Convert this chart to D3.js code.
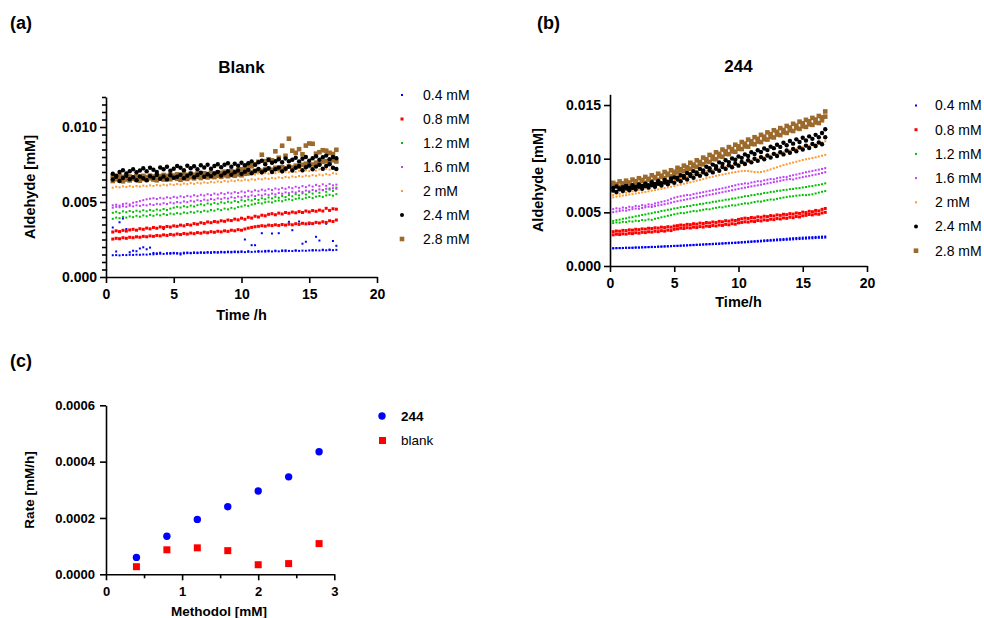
<!DOCTYPE html>
<html>
<head>
<meta charset="utf-8">
<script src="https://cdn.jsdelivr.net/npm/d3@7"></script>
<style>
  body { margin: 0; background: #fff; }
  svg text { font-family: "Liberation Sans", Arial, Helvetica, sans-serif; fill: #000; }
</style>
</head>
<body>
<svg id="fig" width="984" height="618"></svg>
<script>
// ---------- Time courses: aldehyde [mM], two replicate wells per methodol level ----------
const concLabels = ["0.4 mM", "0.8 mM", "1.2 mM", "1.6 mM", "2 mM", "2.4 mM", "2.8 mM"];

// Blank plate read times (h)
const timeBlank = [0.5,0.75,1,1.25,1.5,1.75,2,2.25,2.5,2.75,3,3.25,3.5,3.75,4,4.25,4.5,4.75,5,5.25,
  5.5,5.75,6,6.25,6.5,6.75,7,7.25,7.5,7.75,8,8.25,8.5,8.75,9,9.25,9.5,9.75,10,10.25,
  10.5,10.75,11,11.25,11.5,11.75,12,12.25,12.5,12.75,13,13.25,13.5,13.75,14,14.25,14.5,14.75,15,15.25,
  15.5,15.75,16,16.25,16.5,16.75,17];

// 244 plate read times (h)
const time244 = [0.25,0.5,0.75,1,1.25,1.5,1.75,2,2.25,2.5,2.75,3,3.25,3.5,3.75,4,4.25,4.5,4.75,5,
  5.25,5.5,5.75,6,6.25,6.5,6.75,7,7.25,7.5,7.75,8,8.25,8.5,8.75,9,9.25,9.5,9.75,10,
  10.25,10.5,10.75,11,11.25,11.5,11.75,12,12.25,12.5,12.75,13,13.25,13.5,13.75,14,14.25,14.5,14.75,15,
  15.25,15.5,15.75,16,16.25,16.5,16.75];

// Blank
const blank_04_r1 = [0.00145,0.00146,0.00144,0.00147,0.00146,0.00148,0.00147,0.00149,0.00148,0.00150,
  0.00149,0.00152,0.00151,0.00153,0.00155,0.00154,0.00156,0.00155,0.00157,0.00156,
  0.00158,0.00157,0.00159,0.00158,0.00160,0.00159,0.00161,0.00160,0.00162,0.00161,
  0.00163,0.00162,0.00164,0.00163,0.00165,0.00164,0.00166,0.00165,0.00167,0.00166,
  0.00168,0.00167,0.00169,0.00168,0.00170,0.00169,0.00171,0.00170,0.00172,0.00171,
  0.00173,0.00172,0.00174,0.00173,0.00175,0.00174,0.00176,0.00175,0.00177,0.00176,
  0.00178,0.00177,0.00179,0.00178,0.00180,0.00179,0.00181];
const blank_04_r2 = [0.00330,0.00170,0.00365,0.00390,0.00320,0.00165,0.00175,0.00172,0.00190,0.00198,
  0.00185,0.00196,0.00160,0.00158,0.00162,0.00320,0.00158,0.00160,0.00161,0.00159,
  0.00150,0.00162,0.00163,0.00161,0.00164,0.00163,0.00165,0.00164,0.00166,0.00165,
  0.00167,0.00166,0.00168,0.00167,0.00169,0.00168,0.00170,0.00169,0.00171,0.00250,
  0.00172,0.00212,0.00212,0.00173,0.00292,0.00174,0.00175,0.00290,0.00176,0.00292,
  0.00177,0.00178,0.00368,0.00312,0.00178,0.00370,0.00222,0.00235,0.00352,0.00180,
  0.00268,0.00243,0.00182,0.00355,0.00183,0.00240,0.00208];
const blank_08_r1 = [0.00300,0.00308,0.00303,0.00311,0.00306,0.00314,0.00318,0.00312,0.00322,0.00318,
  0.00326,0.00321,0.00330,0.00325,0.00334,0.00330,0.00337,0.00333,0.00341,0.00338,
  0.00346,0.00341,0.00350,0.00346,0.00356,0.00352,0.00362,0.00357,0.00367,0.00362,
  0.00370,0.00366,0.00375,0.00371,0.00380,0.00376,0.00386,0.00381,0.00392,0.00385,
  0.00398,0.00393,0.00405,0.00400,0.00412,0.00408,0.00418,0.00422,0.00415,0.00426,
  0.00420,0.00430,0.00425,0.00433,0.00428,0.00436,0.00430,0.00440,0.00434,0.00443,
  0.00438,0.00446,0.00440,0.00458,0.00444,0.00455,0.00452];
const blank_08_r2 = [0.00253,0.00258,0.00255,0.00262,0.00258,0.00265,0.00262,0.00268,0.00265,0.00271,
  0.00268,0.00274,0.00271,0.00277,0.00274,0.00281,0.00277,0.00284,0.00280,0.00287,
  0.00283,0.00290,0.00286,0.00293,0.00289,0.00296,0.00292,0.00299,0.00295,0.00302,
  0.00298,0.00305,0.00301,0.00308,0.00304,0.00312,0.00308,0.00316,0.00312,0.00320,
  0.00326,0.00331,0.00335,0.00338,0.00342,0.00339,0.00346,0.00343,0.00348,0.00344,
  0.00350,0.00346,0.00352,0.00348,0.00355,0.00351,0.00358,0.00354,0.00360,0.00356,
  0.00364,0.00360,0.00368,0.00364,0.00375,0.00370,0.00380];
const blank_12_r1 = [0.00428,0.00435,0.00426,0.00438,0.00432,0.00440,0.00433,0.00442,0.00436,0.00445,
  0.00438,0.00447,0.00441,0.00450,0.00444,0.00453,0.00447,0.00456,0.00462,0.00468,
  0.00463,0.00472,0.00466,0.00476,0.00470,0.00479,0.00485,0.00478,0.00490,0.00484,
  0.00494,0.00488,0.00498,0.00492,0.00502,0.00496,0.00506,0.00500,0.00512,0.00506,
  0.00516,0.00510,0.00520,0.00514,0.00525,0.00518,0.00530,0.00524,0.00535,0.00528,
  0.00540,0.00533,0.00546,0.00538,0.00552,0.00544,0.00558,0.00550,0.00565,0.00556,
  0.00572,0.00562,0.00580,0.00568,0.00590,0.00574,0.00596];
const blank_12_r2 = [0.00388,0.00396,0.00392,0.00401,0.00396,0.00404,0.00399,0.00408,0.00402,0.00411,
  0.00405,0.00414,0.00408,0.00417,0.00411,0.00420,0.00414,0.00423,0.00418,0.00426,
  0.00421,0.00430,0.00425,0.00434,0.00429,0.00438,0.00433,0.00442,0.00437,0.00447,
  0.00442,0.00452,0.00446,0.00456,0.00451,0.00461,0.00456,0.00466,0.00470,0.00478,
  0.00474,0.00483,0.00488,0.00494,0.00490,0.00498,0.00502,0.00497,0.00506,0.00510,
  0.00505,0.00514,0.00518,0.00512,0.00521,0.00525,0.00519,0.00528,0.00533,0.00526,
  0.00536,0.00540,0.00534,0.00544,0.00548,0.00542,0.00552];
const blank_16_r1 = [0.00478,0.00482,0.00476,0.00486,0.00490,0.00484,0.00495,0.00500,0.00506,0.00512,
  0.00518,0.00522,0.00525,0.00520,0.00528,0.00523,0.00531,0.00526,0.00534,0.00529,
  0.00538,0.00532,0.00541,0.00536,0.00545,0.00539,0.00548,0.00543,0.00552,0.00546,
  0.00556,0.00550,0.00559,0.00553,0.00562,0.00557,0.00566,0.00560,0.00570,0.00564,
  0.00574,0.00568,0.00578,0.00572,0.00582,0.00576,0.00586,0.00580,0.00590,0.00584,
  0.00594,0.00588,0.00598,0.00592,0.00602,0.00595,0.00606,0.00599,0.00610,0.00603,
  0.00614,0.00606,0.00618,0.00608,0.00620,0.00611,0.00616];
const blank_16_r2 = [0.00462,0.00468,0.00465,0.00472,0.00468,0.00475,0.00471,0.00478,0.00474,0.00481,
  0.00477,0.00485,0.00480,0.00488,0.00484,0.00492,0.00487,0.00496,0.00491,0.00500,
  0.00495,0.00504,0.00499,0.00508,0.00503,0.00512,0.00507,0.00516,0.00511,0.00520,
  0.00515,0.00524,0.00519,0.00528,0.00523,0.00532,0.00527,0.00536,0.00531,0.00540,
  0.00535,0.00544,0.00539,0.00548,0.00543,0.00552,0.00547,0.00556,0.00551,0.00560,
  0.00555,0.00564,0.00559,0.00568,0.00563,0.00572,0.00567,0.00576,0.00571,0.00580,
  0.00575,0.00584,0.00579,0.00588,0.00583,0.00592,0.00588];
const blank_20_r1 = [0.00596,0.00602,0.00598,0.00604,0.00600,0.00606,0.00601,0.00607,0.00603,0.00609,
  0.00605,0.00611,0.00607,0.00613,0.00609,0.00615,0.00611,0.00618,0.00614,0.00620,
  0.00616,0.00623,0.00619,0.00626,0.00621,0.00628,0.00624,0.00631,0.00627,0.00634,
  0.00630,0.00637,0.00633,0.00640,0.00636,0.00643,0.00639,0.00646,0.00642,0.00649,
  0.00645,0.00652,0.00648,0.00655,0.00651,0.00658,0.00654,0.00661,0.00657,0.00664,
  0.00660,0.00667,0.00663,0.00670,0.00666,0.00673,0.00669,0.00676,0.00672,0.00679,
  0.00675,0.00682,0.00678,0.00686,0.00681,0.00692,0.00688];
const blank_20_r2 = [0.00640,0.00646,0.00642,0.00648,0.00644,0.00650,0.00646,0.00652,0.00648,0.00654,
  0.00650,0.00656,0.00652,0.00658,0.00654,0.00660,0.00656,0.00662,0.00658,0.00664,
  0.00660,0.00666,0.00662,0.00668,0.00664,0.00670,0.00666,0.00672,0.00668,0.00674,
  0.00670,0.00676,0.00672,0.00678,0.00674,0.00680,0.00676,0.00682,0.00678,0.00684,
  0.00680,0.00687,0.00683,0.00690,0.00686,0.00693,0.00689,0.00696,0.00692,0.00699,
  0.00695,0.00702,0.00698,0.00705,0.00701,0.00708,0.00704,0.00711,0.00707,0.00714,
  0.00710,0.00717,0.00713,0.00720,0.00716,0.00723,0.00719];
const blank_24_r1 = [0.00688,0.00675,0.00700,0.00712,0.00690,0.00705,0.00718,0.00698,0.00710,0.00725,
  0.00705,0.00728,0.00715,0.00700,0.00730,0.00718,0.00735,0.00708,0.00722,0.00740,
  0.00728,0.00712,0.00742,0.00725,0.00738,0.00718,0.00745,0.00730,0.00748,0.00722,
  0.00740,0.00752,0.00732,0.00748,0.00758,0.00735,0.00755,0.00742,0.00762,0.00745,
  0.00758,0.00770,0.00748,0.00765,0.00775,0.00752,0.00780,0.00762,0.00772,0.00785,
  0.00765,0.00790,0.00772,0.00782,0.00795,0.00770,0.00788,0.00800,0.00775,0.00792,
  0.00805,0.00782,0.00798,0.00810,0.00785,0.00800,0.00792];
const blank_24_r2 = [0.00650,0.00668,0.00640,0.00660,0.00675,0.00652,0.00665,0.00645,0.00670,0.00658,
  0.00645,0.00672,0.00660,0.00680,0.00655,0.00670,0.00650,0.00678,0.00662,0.00668,
  0.00682,0.00658,0.00675,0.00690,0.00665,0.00680,0.00695,0.00668,0.00685,0.00672,
  0.00690,0.00700,0.00676,0.00692,0.00705,0.00682,0.00698,0.00710,0.00688,0.00702,
  0.00715,0.00692,0.00708,0.00720,0.00698,0.00712,0.00725,0.00700,0.00718,0.00730,
  0.00705,0.00722,0.00735,0.00710,0.00728,0.00740,0.00712,0.00732,0.00745,0.00718,
  0.00736,0.00748,0.00722,0.00740,0.00752,0.00728,0.00720];
const blank_28_r1 = [0.00672,0.00665,0.00675,0.00668,0.00662,0.00670,0.00665,0.00672,0.00668,0.00674,
  0.00666,0.00676,0.00670,0.00678,0.00672,0.00680,0.00674,0.00682,0.00676,0.00684,
  0.00678,0.00686,0.00680,0.00688,0.00682,0.00690,0.00684,0.00692,0.00686,0.00695,
  0.00690,0.00698,0.00694,0.00702,0.00698,0.00706,0.00702,0.00712,0.00718,0.00725,
  0.00745,0.00738,0.00752,0.00768,0.00815,0.00772,0.00785,0.00778,0.00838,0.00795,
  0.00875,0.00808,0.00922,0.00842,0.00828,0.00852,0.00818,0.00876,0.00890,0.00888,
  0.00822,0.00832,0.00845,0.00842,0.00828,0.00820,0.00848];
const blank_28_r2 = [0.00640,0.00652,0.00645,0.00638,0.00650,0.00644,0.00655,0.00648,0.00642,0.00654,
  0.00648,0.00658,0.00650,0.00645,0.00656,0.00650,0.00660,0.00652,0.00662,0.00655,
  0.00648,0.00660,0.00654,0.00665,0.00658,0.00668,0.00660,0.00670,0.00664,0.00672,
  0.00666,0.00675,0.00668,0.00678,0.00672,0.00680,0.00675,0.00684,0.00678,0.00688,
  0.00692,0.00700,0.00705,0.00712,0.00708,0.00718,0.00722,0.00715,0.00728,0.00720,
  0.00732,0.00725,0.00738,0.00730,0.00742,0.00735,0.00748,0.00755,0.00740,0.00750,
  0.00762,0.00755,0.00768,0.00772,0.00760,0.00778,0.00770];

// 244
const s244_04_r1 = [0.00166,0.00167,0.00166,0.00168,0.00169,0.00170,0.00169,0.00171,0.00172,0.00173,
  0.00174,0.00175,0.00176,0.00177,0.00179,0.00180,0.00181,0.00182,0.00184,0.00186,
  0.00187,0.00188,0.00190,0.00191,0.00193,0.00194,0.00196,0.00197,0.00199,0.00200,
  0.00202,0.00203,0.00205,0.00206,0.00208,0.00210,0.00211,0.00213,0.00214,0.00216,
  0.00218,0.00220,0.00222,0.00224,0.00226,0.00227,0.00229,0.00231,0.00233,0.00235,
  0.00237,0.00239,0.00240,0.00242,0.00244,0.00246,0.00248,0.00250,0.00251,0.00253,
  0.00255,0.00257,0.00258,0.00260,0.00262,0.00263,0.00265];
const s244_04_r2 = [0.00164,0.00166,0.00168,0.00167,0.00170,0.00169,0.00171,0.00173,0.00172,0.00175,
  0.00176,0.00177,0.00179,0.00178,0.00181,0.00182,0.00184,0.00185,0.00186,0.00188,
  0.00189,0.00191,0.00192,0.00194,0.00195,0.00197,0.00199,0.00200,0.00202,0.00204,
  0.00205,0.00207,0.00209,0.00210,0.00212,0.00214,0.00216,0.00217,0.00219,0.00221,
  0.00223,0.00225,0.00228,0.00230,0.00232,0.00234,0.00236,0.00239,0.00241,0.00243,
  0.00245,0.00248,0.00250,0.00252,0.00254,0.00257,0.00259,0.00261,0.00263,0.00265,
  0.00266,0.00268,0.00269,0.00271,0.00272,0.00274,0.00275];
const s244_08_r1 = [0.00320,0.00326,0.00324,0.00332,0.00330,0.00337,0.00334,0.00342,0.00339,0.00346,
  0.00344,0.00352,0.00349,0.00356,0.00353,0.00362,0.00358,0.00366,0.00362,0.00372,
  0.00376,0.00382,0.00379,0.00388,0.00385,0.00394,0.00390,0.00400,0.00396,0.00405,
  0.00401,0.00410,0.00406,0.00416,0.00412,0.00422,0.00418,0.00428,0.00424,0.00434,
  0.00440,0.00446,0.00443,0.00452,0.00448,0.00458,0.00454,0.00464,0.00460,0.00470,
  0.00466,0.00476,0.00472,0.00482,0.00478,0.00488,0.00484,0.00494,0.00490,0.00502,
  0.00498,0.00510,0.00506,0.00518,0.00514,0.00528,0.00536];
const s244_08_r2 = [0.00290,0.00296,0.00293,0.00300,0.00297,0.00305,0.00302,0.00310,0.00306,0.00314,
  0.00311,0.00319,0.00316,0.00324,0.00320,0.00329,0.00325,0.00334,0.00330,0.00342,
  0.00346,0.00352,0.00349,0.00357,0.00354,0.00362,0.00358,0.00367,0.00363,0.00372,
  0.00368,0.00377,0.00373,0.00382,0.00378,0.00388,0.00384,0.00394,0.00390,0.00402,
  0.00406,0.00412,0.00409,0.00418,0.00414,0.00424,0.00420,0.00430,0.00426,0.00436,
  0.00432,0.00442,0.00438,0.00448,0.00444,0.00455,0.00450,0.00461,0.00457,0.00468,
  0.00472,0.00480,0.00476,0.00486,0.00482,0.00494,0.00500];
const s244_12_r1 = [0.00420,0.00428,0.00432,0.00440,0.00444,0.00452,0.00455,0.00463,0.00468,0.00476,
  0.00480,0.00488,0.00492,0.00500,0.00504,0.00512,0.00516,0.00524,0.00528,0.00536,
  0.00540,0.00548,0.00550,0.00558,0.00560,0.00568,0.00570,0.00578,0.00580,0.00588,
  0.00590,0.00598,0.00600,0.00608,0.00610,0.00618,0.00620,0.00628,0.00630,0.00638,
  0.00642,0.00650,0.00652,0.00660,0.00662,0.00670,0.00672,0.00680,0.00682,0.00690,
  0.00692,0.00700,0.00702,0.00708,0.00710,0.00716,0.00718,0.00724,0.00726,0.00732,
  0.00736,0.00742,0.00745,0.00752,0.00756,0.00762,0.00770];
const s244_12_r2 = [0.00400,0.00406,0.00404,0.00412,0.00409,0.00417,0.00414,0.00422,0.00419,0.00428,
  0.00425,0.00434,0.00430,0.00440,0.00446,0.00454,0.00460,0.00468,0.00474,0.00482,
  0.00488,0.00494,0.00492,0.00500,0.00506,0.00512,0.00510,0.00518,0.00524,0.00530,
  0.00528,0.00536,0.00542,0.00548,0.00546,0.00554,0.00560,0.00566,0.00564,0.00572,
  0.00578,0.00584,0.00582,0.00590,0.00596,0.00602,0.00600,0.00608,0.00614,0.00620,
  0.00618,0.00626,0.00632,0.00638,0.00642,0.00648,0.00650,0.00655,0.00658,0.00662,
  0.00660,0.00664,0.00668,0.00676,0.00684,0.00692,0.00698];
const s244_16_r1 = [0.00530,0.00538,0.00534,0.00545,0.00541,0.00552,0.00548,0.00560,0.00556,0.00567,
  0.00563,0.00575,0.00571,0.00583,0.00590,0.00598,0.00604,0.00612,0.00626,0.00636,
  0.00644,0.00650,0.00656,0.00662,0.00660,0.00670,0.00676,0.00682,0.00688,0.00694,
  0.00700,0.00706,0.00712,0.00718,0.00724,0.00730,0.00738,0.00745,0.00752,0.00760,
  0.00764,0.00770,0.00768,0.00778,0.00784,0.00790,0.00788,0.00798,0.00804,0.00810,
  0.00808,0.00818,0.00824,0.00830,0.00828,0.00840,0.00846,0.00852,0.00860,0.00866,
  0.00874,0.00880,0.00886,0.00892,0.00898,0.00905,0.00912];
const s244_16_r2 = [0.00502,0.00508,0.00512,0.00518,0.00516,0.00524,0.00530,0.00535,0.00533,0.00541,
  0.00547,0.00552,0.00550,0.00558,0.00565,0.00570,0.00576,0.00582,0.00590,0.00598,
  0.00604,0.00610,0.00616,0.00622,0.00628,0.00634,0.00640,0.00646,0.00652,0.00658,
  0.00664,0.00670,0.00676,0.00682,0.00688,0.00694,0.00700,0.00706,0.00712,0.00718,
  0.00724,0.00730,0.00736,0.00742,0.00748,0.00752,0.00758,0.00764,0.00770,0.00776,
  0.00782,0.00788,0.00794,0.00800,0.00806,0.00810,0.00806,0.00816,0.00822,0.00828,
  0.00834,0.00840,0.00846,0.00852,0.00858,0.00866,0.00874];
const s244_20_r1 = [0.00662,0.00670,0.00672,0.00682,0.00684,0.00694,0.00696,0.00706,0.00710,0.00720,
  0.00724,0.00734,0.00738,0.00750,0.00754,0.00766,0.00770,0.00782,0.00788,0.00800,
  0.00806,0.00818,0.00822,0.00834,0.00838,0.00850,0.00854,0.00866,0.00870,0.00882,
  0.00884,0.00896,0.00900,0.00910,0.00914,0.00924,0.00928,0.00938,0.00942,0.00952,
  0.00956,0.00968,0.00970,0.00982,0.00986,0.00998,0.01002,0.01014,0.01018,0.01030,
  0.01034,0.01046,0.01050,0.01062,0.01066,0.01078,0.01082,0.01094,0.01098,0.01110,
  0.01112,0.01122,0.01124,0.01134,0.01138,0.01152,0.01162];
const s244_20_r2 = [0.00640,0.00646,0.00650,0.00656,0.00660,0.00666,0.00670,0.00676,0.00680,0.00686,
  0.00690,0.00696,0.00702,0.00708,0.00714,0.00720,0.00726,0.00732,0.00738,0.00746,
  0.00752,0.00758,0.00766,0.00772,0.00780,0.00788,0.00795,0.00802,0.00810,0.00818,
  0.00826,0.00832,0.00840,0.00846,0.00852,0.00858,0.00864,0.00870,0.00876,0.00880,
  0.00884,0.00886,0.00885,0.00880,0.00876,0.00874,0.00876,0.00882,0.00890,0.00900,
  0.00910,0.00920,0.00930,0.00940,0.00948,0.00956,0.00964,0.00972,0.00980,0.00988,
  0.00994,0.01000,0.01006,0.01012,0.01020,0.01028,0.01036];
const s244_24_r1 = [0.00728,0.00741,0.00722,0.00735,0.00748,0.00730,0.00752,0.00739,0.00760,0.00746,
  0.00768,0.00752,0.00780,0.00764,0.00790,0.00772,0.00801,0.00786,0.00815,0.00826,
  0.00822,0.00846,0.00838,0.00866,0.00855,0.00884,0.00872,0.00905,0.00890,0.00925,
  0.00912,0.00945,0.00930,0.00966,0.00952,0.00985,0.00968,0.01002,0.00990,0.01020,
  0.01008,0.01040,0.01025,0.01060,0.01044,0.01078,0.01062,0.01095,0.01080,0.01112,
  0.01098,0.01130,0.01110,0.01148,0.01125,0.01165,0.01140,0.01180,0.01155,0.01195,
  0.01170,0.01208,0.01185,0.01222,0.01200,0.01240,0.01275];
const s244_24_r2 = [0.00702,0.00690,0.00715,0.00700,0.00722,0.00706,0.00728,0.00712,0.00738,0.00720,
  0.00745,0.00730,0.00755,0.00738,0.00766,0.00750,0.00778,0.00762,0.00790,0.00775,
  0.00805,0.00790,0.00822,0.00806,0.00838,0.00822,0.00856,0.00840,0.00872,0.00855,
  0.00890,0.00872,0.00906,0.00888,0.00922,0.00905,0.00938,0.00920,0.00955,0.00935,
  0.00970,0.00950,0.00985,0.00966,0.01000,0.00980,0.01015,0.00995,0.01030,0.01010,
  0.01045,0.01025,0.01060,0.01040,0.01076,0.01055,0.01090,0.01070,0.01105,0.01085,
  0.01122,0.01100,0.01138,0.01118,0.01152,0.01135,0.01200];
const s244_28_r1 = [0.00775,0.00760,0.00788,0.00770,0.00795,0.00778,0.00805,0.00790,0.00818,0.00802,
  0.00830,0.00812,0.00845,0.00828,0.00860,0.00842,0.00876,0.00860,0.00892,0.00878,
  0.00915,0.00902,0.00935,0.00920,0.00962,0.00945,0.00985,0.00970,0.01010,0.00995,
  0.01035,0.01020,0.01060,0.01045,0.01085,0.01068,0.01108,0.01090,0.01130,0.01115,
  0.01155,0.01140,0.01178,0.01162,0.01200,0.01185,0.01222,0.01205,0.01245,0.01228,
  0.01265,0.01250,0.01285,0.01268,0.01305,0.01290,0.01325,0.01308,0.01345,0.01330,
  0.01362,0.01348,0.01380,0.01365,0.01398,0.01385,0.01440];
const s244_28_r2 = [0.00742,0.00756,0.00738,0.00762,0.00748,0.00772,0.00755,0.00780,0.00765,0.00792,
  0.00776,0.00805,0.00790,0.00818,0.00802,0.00832,0.00818,0.00848,0.00835,0.00862,
  0.00872,0.00890,0.00885,0.00908,0.00905,0.00930,0.00925,0.00950,0.00948,0.00975,
  0.00970,0.00998,0.00995,0.01022,0.01018,0.01045,0.01042,0.01068,0.01065,0.01092,
  0.01090,0.01115,0.01112,0.01138,0.01135,0.01160,0.01155,0.01182,0.01178,0.01202,
  0.01198,0.01225,0.01220,0.01245,0.01240,0.01265,0.01258,0.01285,0.01278,0.01302,
  0.01296,0.01320,0.01315,0.01338,0.01332,0.01358,0.01392];

// ---------- Initial rates (mM/h) vs methodol (mM) ----------
const methodol = [0.4, 0.8, 1.2, 1.6, 2.0, 2.4, 2.8];
const rate244 = [0.000060, 0.000135, 0.000195, 0.000240, 0.000296, 0.000346, 0.000435];
const rateBlank = [0.000027, 0.000087, 0.000094, 0.000084, 0.000034, 0.000038, 0.000109];

// ---------- Marker styles per methodol level ----------
const levelStyles = [
  { color: "#0000ff", shape: "square", size: 2 },
  { color: "#ff0000", shape: "square", size: 3 },
  { color: "#00c000", shape: "square", size: 2 },
  { color: "#c040f8", shape: "square", size: 2 },
  { color: "#ff9933", shape: "square", size: 2 },
  { color: "#000000", shape: "circle", size: 4.4 },
  { color: "#9c6a2c", shape: "square", size: 4.6 }
];
const drawOrder = [0, 1, 2, 3, 4, 6, 5];

const blankReps = [
  [blank_04_r1, blank_04_r2], [blank_08_r1, blank_08_r2], [blank_12_r1, blank_12_r2],
  [blank_16_r1, blank_16_r2], [blank_20_r1, blank_20_r2], [blank_24_r1, blank_24_r2],
  [blank_28_r1, blank_28_r2]
];
const reps244 = [
  [s244_04_r1, s244_04_r2], [s244_08_r1, s244_08_r2], [s244_12_r1, s244_12_r2],
  [s244_16_r1, s244_16_r2], [s244_20_r1, s244_20_r2], [s244_24_r1, s244_24_r2],
  [s244_28_r1, s244_28_r2]
];

const svg = d3.select("#fig");
const AXIS_W = 1.6;

function styleAxis(g) {
  g.selectAll("path.domain").attr("stroke", "#000").attr("stroke-width", AXIS_W);
  g.selectAll(".tick line").attr("stroke", "#000").attr("stroke-width", AXIS_W);
  g.selectAll(".tick text").attr("font-weight", "bold").attr("fill", "#000")
    .style("font-family", '"Liberation Sans", Arial, sans-serif');
}

function drawMarker(g, shape, size, color, cx, cy) {
  if (shape === "circle") {
    g.append("circle").attr("cx", cx).attr("cy", cy).attr("r", size / 2).attr("fill", color);
  } else {
    g.append("rect").attr("x", cx - size / 2).attr("y", cy - size / 2)
      .attr("width", size).attr("height", size).attr("fill", color);
  }
}

function timePanel(p) {
  const x = d3.scaleLinear().domain([0, 20]).range(p.xRange);
  const y = d3.scaleLinear().domain([0, p.yMax]).range(p.yRange);
  const g = svg.append("g");

  // replicate points, one group per well
  const pts = g.append("g");
  drawOrder.forEach(k => {
    const st = levelStyles[k];
    p.reps[k].forEach(rep => {
      const data = rep.map((v, i) => ({ t: p.time[i], v })).filter(d => d.t !== undefined);
      const sel = pts.append("g").attr("fill", st.color);
      if (st.shape === "circle") {
        sel.selectAll("circle").data(data).join("circle")
          .attr("cx", d => x(d.t)).attr("cy", d => y(d.v)).attr("r", st.size / 2);
      } else {
        sel.selectAll("rect").data(data).join("rect")
          .attr("x", d => x(d.t) - st.size / 2).attr("y", d => y(d.v) - st.size / 2)
          .attr("width", st.size).attr("height", st.size);
      }
    });
  });

  // axes
  if (p.yMinor) {
    const gm = g.append("g").attr("transform", `translate(${p.xRange[0]},0)`)
      .call(d3.axisLeft(y).tickValues(p.yMinor).tickFormat("").tickSize(4).tickSizeOuter(0));
    gm.select("path.domain").remove();
    styleAxis(gm);
  }
  const gy = g.append("g").attr("transform", `translate(${p.xRange[0]},0)`)
    .call(d3.axisLeft(y).tickValues(p.yTicks).tickFormat(d3.format(".3f"))
      .tickSize(6).tickSizeOuter(0).tickPadding(3));
  gy.selectAll("text").attr("font-size", 14);
  styleAxis(gy);
  const gx = g.append("g").attr("transform", `translate(0,${p.yRange[0]})`)
    .call(d3.axisBottom(x).tickValues([0, 5, 10, 15, 20]).tickFormat(d3.format("d"))
      .tickSize(6).tickSizeOuter(0).tickPadding(6));
  gx.selectAll("text").attr("font-size", 14);
  styleAxis(gx);

  // titles
  svg.append("text").attr("x", p.tag[0]).attr("y", p.tag[1]).attr("font-size", 18)
    .attr("font-weight", "bold").text(p.tagText);
  svg.append("text").attr("x", (p.xRange[0] + p.xRange[1]) / 2).attr("y", p.titleY)
    .attr("text-anchor", "middle").attr("font-size", 17).attr("font-weight", "bold").text(p.title);
  svg.append("text").attr("x", (p.xRange[0] + p.xRange[1]) / 2).attr("y", p.xLabelY)
    .attr("text-anchor", "middle").attr("font-size", 14.5).attr("font-weight", "bold").text(p.xLabel);
  svg.append("text").attr("transform", `translate(${p.yLabelX},${(p.yRange[0] + p.yRange[1]) / 2}) rotate(-90)`)
    .attr("text-anchor", "middle").attr("dy", "0.35em").attr("font-size", 14.5)
    .attr("font-weight", "bold").text("Aldehyde [mM]");

  // legend
  const lg = svg.append("g");
  concLabels.forEach((lab, k) => {
    const st = levelStyles[k];
    const cy = p.legend.y0 + k * p.legend.dy;
    drawMarker(lg, st.shape, st.shape === "circle" ? 4 : Math.min(st.size, 5), st.color, p.legend.mx, cy);
    lg.append("text").attr("x", p.legend.tx).attr("y", cy).attr("dy", "0.35em")
      .attr("font-size", 14).text(lab);
  });
}

const minorBlank = d3.range(0, 0.01201, 0.0005).filter(v => Math.abs(v * 200 - Math.round(v * 200)) > 1e-6);

timePanel({
  time: timeBlank, reps: blankReps,
  xRange: [106, 377], yRange: [277, 97], yMax: 0.012,
  yTicks: [0, 0.005, 0.010], yMinor: minorBlank,
  tag: [10, 29], tagText: "(a)", title: "Blank", titleY: 73,
  xLabel: "Time /h", xLabelY: 320, yLabelX: 30,
  legend: { mx: 402, tx: 423, y0: 95, dy: 24 }
});

timePanel({
  time: time244, reps: reps244,
  xRange: [610, 867], yRange: [266, 94.3], yMax: 0.016,
  yTicks: [0, 0.005, 0.010, 0.015], yMinor: null,
  tag: [537, 29], tagText: "(b)", title: "244", titleY: 72,
  xLabel: "Time/h", xLabelY: 307, yLabelX: 538,
  legend: { mx: 916, tx: 935, y0: 105.5, dy: 24.2 }
});

// ---------- Panel (c): rates ----------
(function ratePanel() {
  const x = d3.scaleLinear().domain([0, 3]).range([106, 334.3]);
  const y = d3.scaleLinear().domain([0, 0.0006]).range([574.3, 405.3]);
  const g = svg.append("g");

  const gxm = g.append("g").attr("transform", "translate(0,574.3)")
    .call(d3.axisBottom(x).tickValues([0.5, 1.5, 2.5]).tickFormat("").tickSize(4).tickSizeOuter(0));
  gxm.select("path.domain").remove();
  styleAxis(gxm);
  const gy = g.append("g").attr("transform", "translate(106,0)")
    .call(d3.axisLeft(y).tickValues([0, 0.0002, 0.0004, 0.0006]).tickFormat(d3.format(".4f"))
      .tickSize(6).tickSizeOuter(0).tickPadding(5));
  gy.selectAll("text").attr("font-size", 13);
  styleAxis(gy);
  const gx = g.append("g").attr("transform", "translate(0,574.3)")
    .call(d3.axisBottom(x).tickValues([0, 1, 2, 3]).tickFormat(d3.format("d"))
      .tickSize(6).tickSizeOuter(0).tickPadding(6));
  gx.selectAll("text").attr("font-size", 13);
  styleAxis(gx);

  g.append("g").selectAll("circle").data(methodol).join("circle")
    .attr("cx", d => x(d)).attr("cy", (d, i) => y(rate244[i])).attr("r", 3.7).attr("fill", "#0000ff");
  g.append("g").selectAll("rect").data(methodol).join("rect")
    .attr("x", d => x(d) - 3.5).attr("y", (d, i) => y(rateBlank[i]) - 3.5)
    .attr("width", 7).attr("height", 7).attr("fill", "#ff0000");

  svg.append("text").attr("x", 10).attr("y", 367).attr("font-size", 18).attr("font-weight", "bold").text("(c)");
  svg.append("text").attr("x", 219).attr("y", 616).attr("text-anchor", "middle")
    .attr("font-size", 13.5).attr("font-weight", "bold").text("Methodol [mM]");
  svg.append("text").attr("transform", "translate(29,490) rotate(-90)").attr("text-anchor", "middle")
    .attr("dy", "0.35em").attr("font-size", 13.5).attr("font-weight", "bold").text("Rate [mM/h]");

  const lg = svg.append("g");
  drawMarker(lg, "circle", 7.4, "#0000ff", 382, 416);
  lg.append("text").attr("x", 401).attr("y", 416).attr("dy", "0.35em").attr("font-size", 13.5)
    .attr("font-weight", "bold").text("244");
  drawMarker(lg, "square", 7, "#ff0000", 382.5, 440.5);
  lg.append("text").attr("x", 401).attr("y", 440.5).attr("dy", "0.35em").attr("font-size", 13.5).text("blank");
})();
</script>
</body>
</html>
